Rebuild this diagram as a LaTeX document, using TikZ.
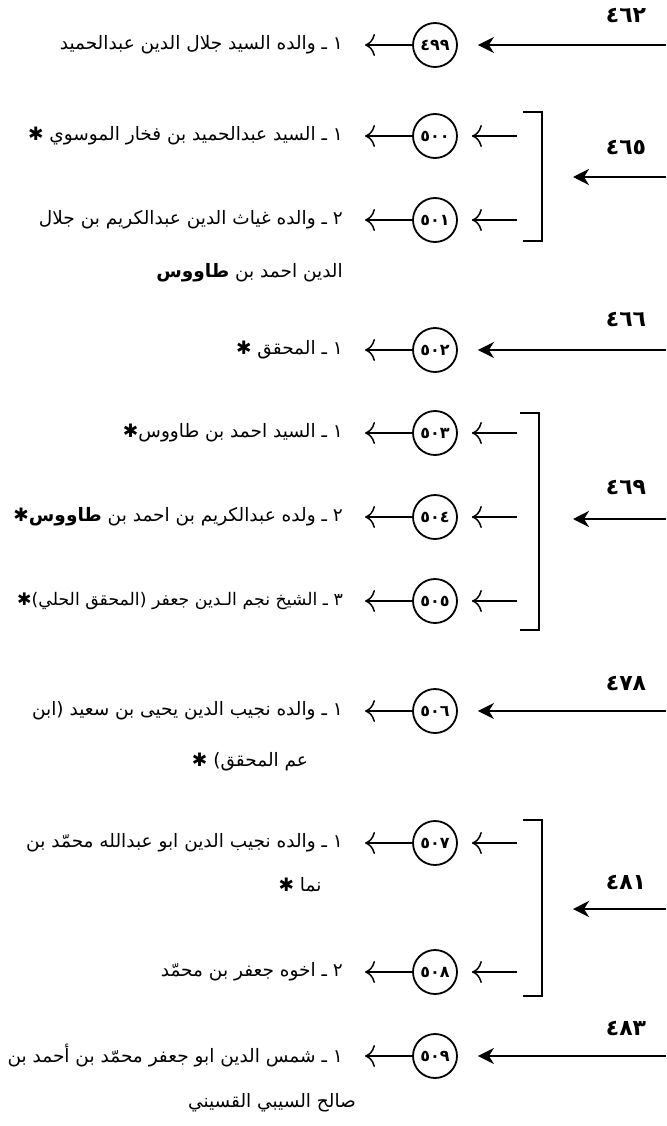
\documentclass[tikz,border=0pt]{standalone}
\usepackage{fontspec}
\usetikzlibrary{arrows.meta}
\TeXXeTstate=1
\newfontfamily\arabicfont[Script=Arabic]{DejaVu Sans}
\begin{document}
\begin{tikzpicture}[x=1pt,y=-1pt,
  numc/.style={circle,draw,line width=1.8pt,minimum size=44pt,inner sep=0pt,
    font=\arabicfont\fontsize{16}{16}\selectfont\bfseries},
  txt/.style={anchor=east,inner sep=0pt,font=\arabicfont\fontsize{18.5}{20}\selectfont},
  cont/.style={inner sep=0pt,font=\arabicfont\fontsize{18.5}{20}\selectfont},
  yearlbl/.style={inner sep=0pt,font=\arabicfont\fontsize{22}{22}\selectfont\bfseries},
  sarrow/.style={line width=1.5pt,-{Computer Modern Rightarrow[length=10pt,width=22pt,line width=1.5pt]}},
  barrow/.style={line width=2pt,-{Stealth[length=16pt,width=16pt,inset=5pt]}},
  brk/.style={line width=1.8pt}
]
\useasboundingbox (0,0) rectangle (666,1126);
\fill[white] (0,0) rectangle (666,1126);

% ---------- 462 ----------
\node[yearlbl] (y462) at (626,16) {٤٦٢};
\node[numc] (c499) at (435,45) {٤٩٩};
\node[txt] (t499) at (343,45) {\beginR ١ ـ والده السيد جلال الدين عبدالحميد\endR};
\coordinate (e462) at (666,45);
\draw[barrow,shorten >=20pt] (e462) -- (c499.east);
\draw[sarrow,shorten >=22pt] (c499.west) -- (t499.east);

% ---------- 465 ----------
\node[yearlbl] (y465) at (626,148) {٤٦٥};
\draw[brk] (523,112) -- (542,112) -- (542,241) -- (523,241);
\coordinate (e465) at (666,177);
\coordinate (k465) at (542,177);
\draw[barrow,shorten >=31pt] (e465) -- (k465);
\node[numc] (c500) at (435,136) {٥٠٠};
\node[numc] (c501) at (435,220) {٥٠١};
\coordinate (b500) at (517,136);
\coordinate (b501) at (517,220);
\draw[sarrow,shorten >=14pt] (b500) -- (c500.east);
\draw[sarrow,shorten >=14pt] (b501) -- (c501.east);
\node[txt] (t500) at (343,136) {\beginR ١ ـ السيد عبدالحميد بن فخار الموسوي ✱\endR};
\node[txt] (t501) at (343,220) {\beginR ٢ ـ والده غياث الدين عبدالكريم بن جلال\endR};
\node[txt] (t501b) at (343,273) {\beginR الدين احمد بن {\bfseries طاووس}\endR};
\draw[sarrow,shorten >=22pt] (c500.west) -- (t500.east);
\draw[sarrow,shorten >=22pt] (c501.west) -- (t501.east);

% ---------- 466 ----------
\node[yearlbl] (y466) at (626,320) {٤٦٦};
\node[numc] (c502) at (435,350) {٥٠٢};
\node[txt] (t502) at (343,350) {\beginR ١ ـ المحقق ✱\endR};
\coordinate (e466) at (666,350);
\draw[barrow,shorten >=20pt] (e466) -- (c502.east);
\draw[sarrow,shorten >=22pt] (c502.west) -- (t502.east);

% ---------- 469 ----------
\node[yearlbl] (y469) at (626,488) {٤٦٩};
\draw[brk] (520,413) -- (539,413) -- (539,630) -- (520,630);
\coordinate (e469) at (666,519);
\coordinate (k469) at (539,519);
\draw[barrow,shorten >=34pt] (e469) -- (k469);
\node[numc] (c503) at (435,433) {٥٠٣};
\node[numc] (c504) at (435,517) {٥٠٤};
\node[numc] (c505) at (435,601) {٥٠٥};
\coordinate (b503) at (517,433);
\coordinate (b504) at (517,517);
\coordinate (b505) at (517,601);
\draw[sarrow,shorten >=14pt] (b503) -- (c503.east);
\draw[sarrow,shorten >=14pt] (b504) -- (c504.east);
\draw[sarrow,shorten >=14pt] (b505) -- (c505.east);
\node[txt] (t503) at (343,433) {\beginR ١ ـ السيد احمد بن طاووس✱\endR};
\node[txt] (t504) at (343,517) {\beginR ٢ ـ ولده عبدالكريم بن احمد بن {\bfseries طاووس}✱\endR};
\node[txt,font=\arabicfont\fontsize{17.3}{20}\selectfont] (t505) at (343,601) {\beginR ٣ ـ الشيخ نجم الـدين جعفر (المحقق الحلي)✱\endR};
\draw[sarrow,shorten >=22pt] (c503.west) -- (t503.east);
\draw[sarrow,shorten >=22pt] (c504.west) -- (t504.east);
\draw[sarrow,shorten >=22pt] (c505.west) -- (t505.east);

% ---------- 478 ----------
\node[yearlbl] (y478) at (626,683) {٤٧٨};
\node[numc] (c506) at (435,711) {٥٠٦};
\node[txt] (t506) at (343,711) {\beginR ١ ـ والده نجيب الدين يحيى بن سعيد (ابن\endR};
\node[cont] (t506b) at (250,762) {\beginR عم المحقق) ✱\endR};
\coordinate (e478) at (666,711);
\draw[barrow,shorten >=20pt] (e478) -- (c506.east);
\draw[sarrow,shorten >=22pt] (c506.west) -- (t506.east);

% ---------- 481 ----------
\node[yearlbl] (y481) at (626,882) {٤٨١};
\draw[brk] (523,820) -- (542,820) -- (542,996) -- (523,996);
\coordinate (e481) at (666,909);
\coordinate (k481) at (542,909);
\draw[barrow,shorten >=31pt] (e481) -- (k481);
\node[numc] (c507) at (435,843) {٥٠٧};
\node[numc] (c508) at (435,972) {٥٠٨};
\coordinate (b507) at (517,843);
\coordinate (b508) at (517,972);
\draw[sarrow,shorten >=14pt] (b507) -- (c507.east);
\draw[sarrow,shorten >=14pt] (b508) -- (c508.east);
\node[txt] (t507) at (343,843) {\beginR ١ ـ والده نجيب الدين ابو عبدالله محمّد بن\endR};
\node[cont] (t507b) at (300,885) {\beginR نما ✱\endR};
\node[txt] (t508) at (343,972) {\beginR ٢ ـ اخوه جعفر بن محمّد\endR};
\draw[sarrow,shorten >=22pt] (c507.west) -- (t507.east);
\draw[sarrow,shorten >=22pt] (c508.west) -- (t508.east);

% ---------- 483 ----------
\node[yearlbl] (y483) at (626,1028) {٤٨٣};
\node[numc] (c509) at (435,1056) {٥٠٩};
\node[txt] (t509) at (343,1056) {\beginR ١ ـ شمس الدين ابو جعفر محمّد بن أحمد بن\endR};
\node[cont] (t509b) at (272,1103) {\beginR صالح السيبي القسيني\endR};
\coordinate (e483) at (666,1056);
\draw[barrow,shorten >=20pt] (e483) -- (c509.east);
\draw[sarrow,shorten >=22pt] (c509.west) -- (t509.east);
\end{tikzpicture}
\end{document}
